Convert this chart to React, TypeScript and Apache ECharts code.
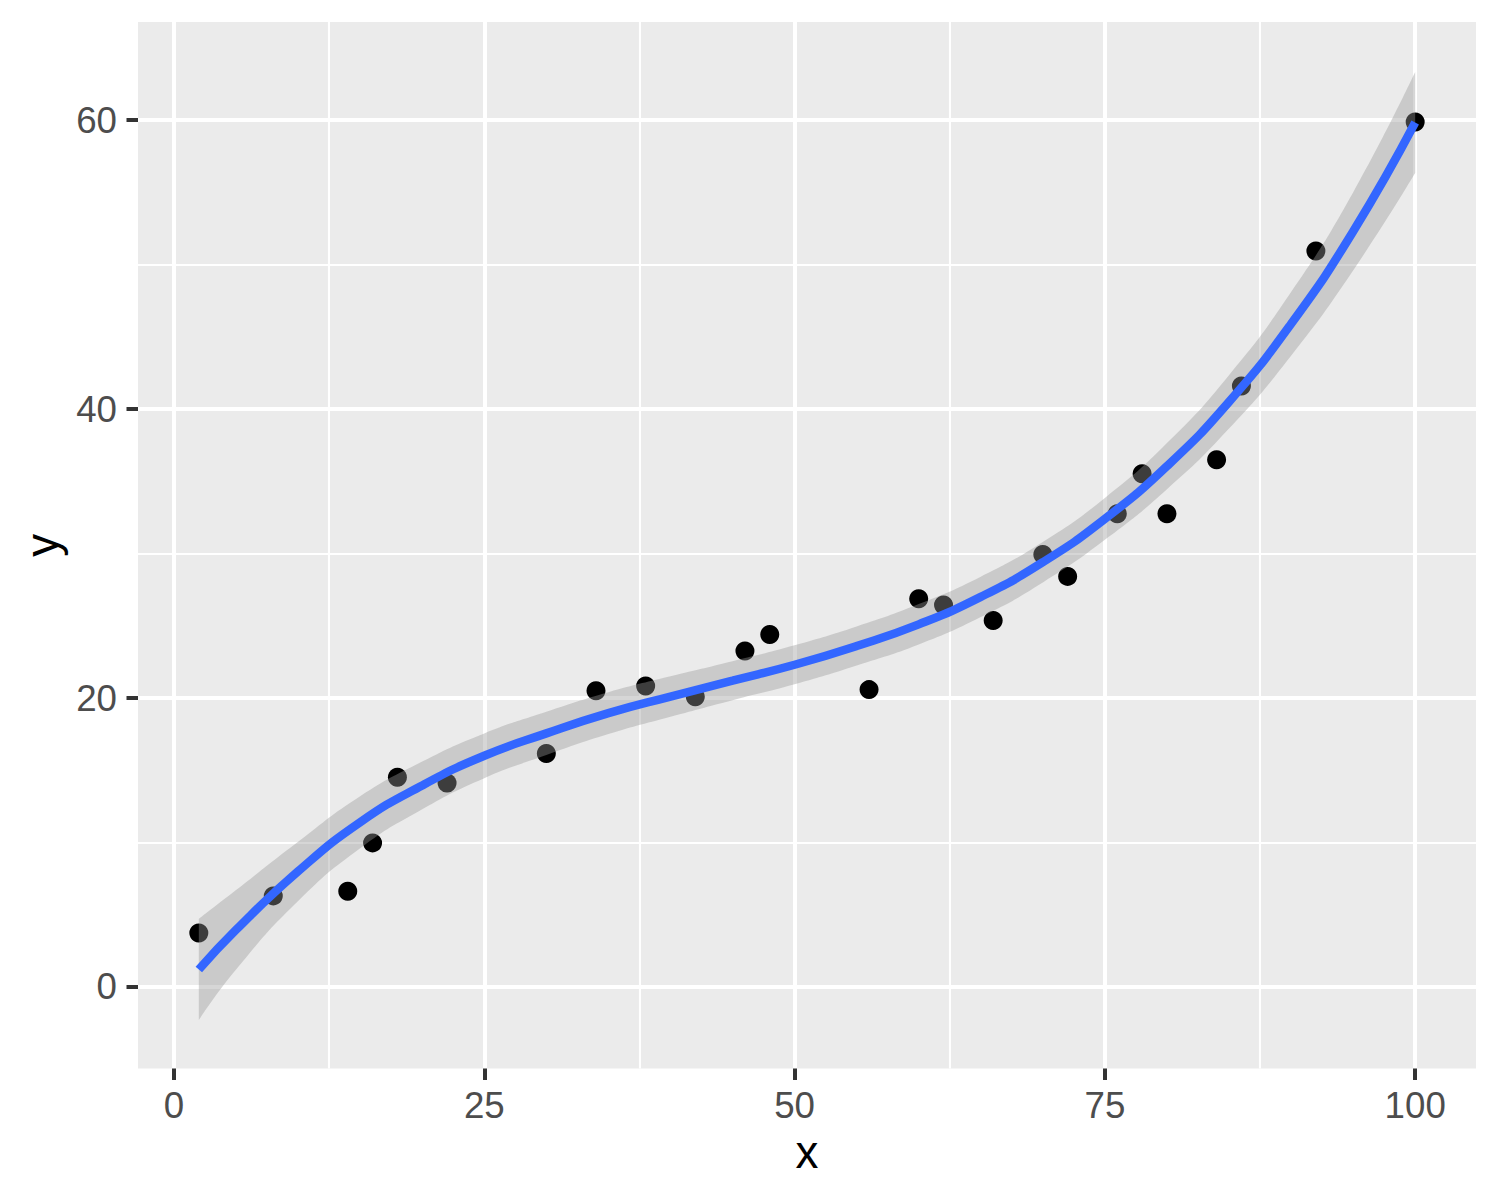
import React, { useEffect, useRef } from "react";
import * as echarts from "echarts";

// Observed points
const pointX = [2, 8, 14, 16, 18, 22, 30, 34, 38, 42, 46, 48, 56, 60, 62, 66, 70, 72, 76, 78, 80, 84, 86, 92, 100];
const pointY = [3.73, 6.3, 6.62, 9.97, 14.52, 14.12, 16.16, 20.5, 20.83, 20.08, 23.25, 24.39, 20.58, 26.87, 26.44, 25.36, 29.93, 28.42, 32.76, 35.53, 32.76, 36.49, 41.6, 50.95, 59.88];

// Fitted curve and its confidence band
const fitX = [2, 5, 10, 15, 20, 25, 30, 35, 40, 45, 50, 55, 60, 65, 70, 75, 80, 85, 90, 95, 100];
const fitY = [1.2, 3.95, 8.0, 11.4, 13.95, 16.0, 17.55, 18.95, 20.1, 21.2, 22.3, 23.6, 25.1, 27.0, 29.4, 32.4, 36.05, 40.5, 45.9, 52.3, 59.84];
const fitLow = [-2.3, 1.2, 5.95, 9.6, 12.3, 14.45, 16.05, 17.5, 18.7, 19.85, 20.95, 22.25, 23.7, 25.6, 28.0, 30.95, 34.45, 38.65, 43.7, 49.6, 56.34];
const fitHigh = [4.7, 6.7, 10.05, 13.2, 15.6, 17.55, 19.05, 20.4, 21.5, 22.55, 23.65, 24.95, 26.5, 28.4, 30.8, 33.85, 37.65, 42.35, 48.1, 55.0, 63.34];

// Axis breaks
const xTicks = [0, 25, 50, 75, 100];
const xMinorTicks = [12.5, 37.5, 62.5, 87.5];
const yTicks = [0, 20, 40, 60];
const yMinorTicks = [10, 30, 50];
const xRange = [-2.9, 104.9];
const yRange = [-5.65, 66.8];

export default function App() {
  const ref = useRef<HTMLDivElement>(null);

  useEffect(() => {
    if (!ref.current) return;
    const chart = echarts.init(ref.current, null, { renderer: "svg" });
    const font = "'Liberation Sans', Arial, Helvetica, sans-serif";

    const hiddenParts = {
      axisLine: { show: false, onZero: false },
      axisTick: { show: false },
      axisLabel: { show: false },
    };

    chart.setOption({
      animation: false,
      backgroundColor: "#FFFFFF",
      grid: {
        left: 138,
        top: 22,
        right: 24,
        bottom: 131.5,
        show: true,
        backgroundColor: "#EBEBEB",
        borderWidth: 0,
      },
      xAxis: [
        {
          type: "value",
          min: xRange[0],
          max: xRange[1],
          axisLine: { show: false, onZero: false },
          axisTick: {
            show: true,
            length: 11.5,
            customValues: xTicks,
            lineStyle: { color: "#333333", width: 4 },
          },
          axisLabel: {
            customValues: xTicks,
            color: "#4D4D4D",
            fontSize: 36.7,
            fontFamily: font,
            margin: 18,
          },
          splitLine: { show: true, lineStyle: { color: "#FFFFFF", width: 4 } },
          name: "x",
          nameLocation: "middle",
          nameGap: 61,
          nameTextStyle: { color: "#000000", fontSize: 45.8, fontFamily: font },
        },
        {
          type: "value",
          min: xRange[0],
          max: xRange[1],
          ...hiddenParts,
          axisTick: { show: false, customValues: xMinorTicks },
          splitLine: { show: true, lineStyle: { color: "#FFFFFF", width: 2.1 } },
        },
      ],
      yAxis: [
        {
          type: "value",
          min: yRange[0],
          max: yRange[1],
          axisLine: { show: false, onZero: false },
          axisTick: {
            show: true,
            length: 11.5,
            customValues: yTicks,
            lineStyle: { color: "#333333", width: 4 },
          },
          axisLabel: {
            customValues: yTicks,
            color: "#4D4D4D",
            fontSize: 36.7,
            fontFamily: font,
            margin: 21,
          },
          splitLine: { show: true, lineStyle: { color: "#FFFFFF", width: 4 } },
          name: "y",
          nameLocation: "middle",
          nameGap: 73,
          nameTextStyle: { color: "#000000", fontSize: 45.8, fontFamily: font },
        },
        {
          type: "value",
          min: yRange[0],
          max: yRange[1],
          position: "left",
          ...hiddenParts,
          axisTick: { show: false, customValues: yMinorTicks },
          splitLine: { show: true, lineStyle: { color: "#FFFFFF", width: 2.1 } },
        },
      ],
      series: [
        {
          type: "scatter",
          z: 2,
          silent: true,
          symbolSize: 19,
          itemStyle: { color: "#000000", opacity: 1 },
          data: pointX.map((x, i) => [x, pointY[i]]),
        },
        {
          // lower edge of the band (value first so that stacking happens on y)
          type: "line",
          z: 3,
          silent: true,
          stack: "ci",
          stackStrategy: "all",
          smooth: true,
          symbol: "none",
          encode: { x: 1, y: 0 },
          lineStyle: { opacity: 0 },
          data: fitX.map((x, i) => [fitLow[i], x]),
        },
        {
          type: "line",
          z: 3,
          silent: true,
          stack: "ci",
          stackStrategy: "all",
          smooth: true,
          symbol: "none",
          encode: { x: 1, y: 0 },
          lineStyle: { opacity: 0 },
          areaStyle: { color: "rgba(153,153,153,0.4)", opacity: 1 },
          data: fitX.map((x, i) => [fitHigh[i] - fitLow[i], x]),
        },
        {
          type: "line",
          z: 4,
          silent: true,
          smooth: true,
          symbol: "none",
          lineStyle: { color: "#3366FF", width: 8.5, cap: "butt" },
          data: fitX.map((x, i) => [x, fitY[i]]),
        },
      ],
    });

    return () => chart.dispose();
  }, []);

  return (
    <div
      ref={ref}
      style={{ position: "fixed", left: 0, top: 0, width: 1500, height: 1200, background: "#FFFFFF" }}
    />
  );
}
